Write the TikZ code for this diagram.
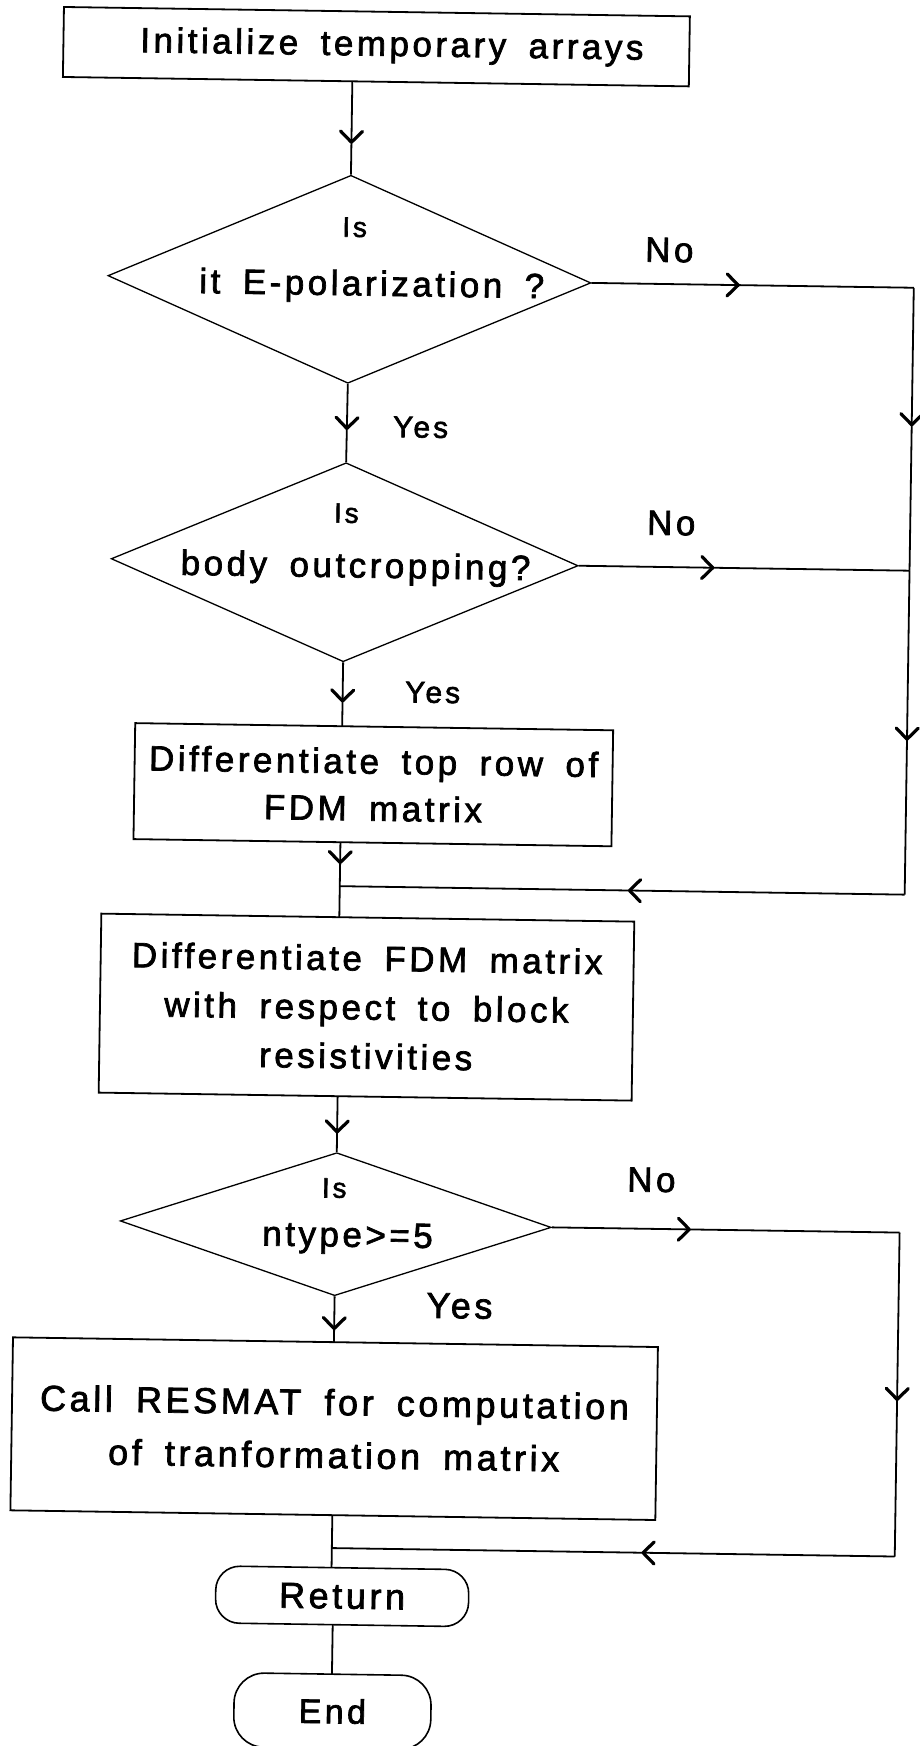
\documentclass[tikz,border=0pt]{standalone}
\usepackage{fontspec}
\setmainfont{Liberation Sans}[LetterSpace=10, WordSpace=1.7, FakeBold=2]
\usetikzlibrary{shapes.geometric,arrows.meta,decorations.markings}

% font sizes (1pt = 1 unit of the drawing)
\newcommand\fsMain{\fontsize{35}{48}\selectfont}
\newcommand\fsTwo{\fontsize{35}{47}\selectfont}
\newcommand\fsThree{\fontsize{35}{49}\selectfont}
\newcommand\fsCall{\fontsize{36}{53}\selectfont}
\newcommand\fsIs{\fontsize{28}{32}\selectfont}
\newcommand\fsNo{\fontsize{35}{40}\selectfont}
\newcommand\fsYes{\fontsize{30}{34}\selectfont}
\newcommand\fsYesB{\fontsize{36}{40}\selectfont}
\newcommand\fsRet{\fontsize{36}{40}\selectfont}
\newcommand\fsEnd{\fontsize{34}{38}\selectfont}

\tikzset{
  boxnode/.style={draw, rectangle, line width=1.8pt, inner sep=0pt, align=center},
  decnode/.style={draw, diamond, line width=1.3pt, inner sep=0pt},
  termnode/.style={draw, rectangle, rounded corners=24pt, line width=1.6pt, inner sep=0pt},
  txt/.style={inner sep=0pt, align=center},
  conn/.style={line width=1.8pt},
  flowarrow/.style={postaction={decorate},
    decoration={markings, mark=at position #1 with
      {\arrow{Straight Barb[length=11pt,width=22pt,line width=3.2pt,round]}}}},
}

\begin{document}
\begin{tikzpicture}[x=1pt,y=-1pt]
\useasboundingbox (0,0) rectangle (920,1746);
\fill[white] (0,0) rectangle (920,1746);
\clip (0,0) rectangle (920,1746);

\begin{scope}[rotate around={-0.86:(460,873)}, transform shape]

% ---------- process boxes, decisions, terminals ----------
\node[boxnode, minimum width=626pt, minimum height=70pt, font=\fsMain] (init) at (364,48)
  {\hspace*{31pt}Initialize temporary arrays};

\node[decnode, minimum width=483pt, minimum height=208pt] (d1) at (340.5,281) {};
\node[txt, font=\fsIs] (is1) at (345,229) {Is};
\node[txt, font=\fsMain] (q1) at (363,288) {it E-polarization ?};

\node[decnode, minimum width=467pt, minimum height=199pt] (d2) at (340,564) {};
\node[txt, font=\fsIs] (is2) at (341,515) {Is};
\node[txt, font=\fsMain] (q2) at (351,570) {body outcropping?};

\node[boxnode, minimum width=478pt, minimum height=116pt, font=\fsTwo] (b2) at (372,786)
  {Differentiate top row of\\FDM matrix};

\node[boxnode, minimum width=533pt, minimum height=179pt, font=\fsThree] (b3) at (368.5,1008.5)
  {Differentiate FDM matrix\\with respect to block\\resistivities};

\node[decnode, minimum width=431pt, minimum height=143pt] (d3) at (341,1226) {};
\node[txt, font=\fsIs] (is3) at (339,1190) {Is};
\node[txt, font=\fsMain] (q3) at (353,1240) {ntype>=5};

\node[boxnode, minimum width=645pt, minimum height=173pt, font=\fsCall] (b4) at (342.5,1430.5)
  {Call RESMAT for computation\\of tranformation matrix};

\node[termnode, minimum width=253pt, minimum height=57pt, font=\fsRet] (ret) at (353,1598) {Return};
\node[termnode, rounded corners=30pt, minimum width=197pt, minimum height=74pt, font=\fsEnd] (fin) at (345,1713) {End};

% ---------- branch labels ----------
\node[txt, font=\fsNo] (no1) at (660,247) {No};
\node[txt, font=\fsNo] (no2) at (666,520) {No};
\node[txt, font=\fsNo] (no3) at (656,1177) {No};
\node[txt, font=\fsYes] (yes1) at (414,428) {Yes};
\node[txt, font=\fsYes] (yes2) at (430,693) {Yes};
\node[txt, font=\fsYesB] (yes3) at (466,1306) {Yes};

% ---------- junction points ----------
\coordinate (c0) at (340.5,83);
\coordinate (c2) at (340,728);
\coordinate (c3) at (340,844);
\coordinate (m1) at (340,888);
\coordinate (c4) at (340,919);
\coordinate (c5) at (341,1098);
\coordinate (c6) at (341,1344);
\coordinate (c7) at (342,1517);
\coordinate (m2) at (342,1550);
\coordinate (c8) at (342,1569.5);
\coordinate (c9) at (344,1626.5);
\coordinate (c10) at (344,1676);
\coordinate (r1) at (905,281);
\coordinate (r2) at (905,564);
\coordinate (r3) at (905,888);
\coordinate (r4) at (905,1226);
\coordinate (r5) at (905,1550);

% ---------- main column ----------
\draw[conn, flowarrow=0.67] (c0) -- (d1.north);
\draw[conn, flowarrow=0.59] (d1.south) -- (d2.north);
\draw[conn, flowarrow=0.63] (d2.south) -- (c2);
\draw[conn, flowarrow=0.5] (c3) -- (m1);
\draw[conn] (m1) -- (c4);
\draw[conn, flowarrow=0.67] (c5) -- (d3.north);
\draw[conn, flowarrow=0.74] (d3.south) -- (c6);
\draw[conn] (c7) -- (m2) -- (c8);
\draw[conn] (c9) -- (c10);

% ---------- "No" branches along the right side ----------
\draw[conn, flowarrow=0.46] (d1.east) -- (r1);
\draw[conn, flowarrow=0.49] (r1) -- (r2);
\draw[conn, flowarrow=0.41] (d2.east) -- (r2);
\draw[conn, flowarrow=0.525] (r2) -- (r3);
\draw[conn, flowarrow=0.49] (r3) -- (m1);
\draw[conn, flowarrow=0.40] (d3.east) -- (r4);
\draw[conn, flowarrow=0.52] (r4) -- (r5);
\draw[conn, flowarrow=0.45] (r5) -- (m2);

\end{scope}
\end{tikzpicture}
\end{document}
